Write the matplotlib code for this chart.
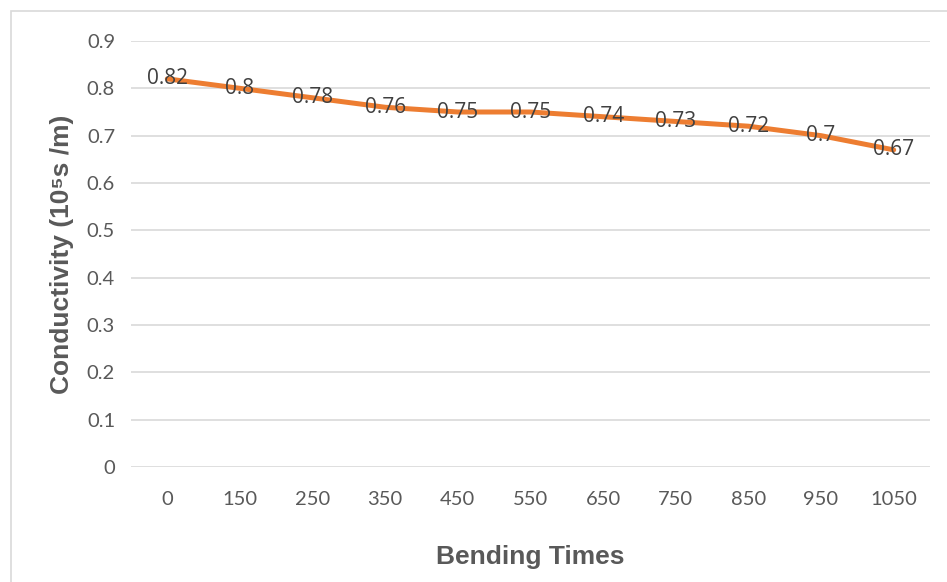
import matplotlib.pyplot as plt
from matplotlib.patches import Rectangle

# Data
bending_times = ["0", "150", "250", "350", "450", "550", "650", "750", "850", "950", "1050"]
conductivity = [0.82, 0.80, 0.78, 0.76, 0.75, 0.75, 0.74, 0.73, 0.72, 0.70, 0.67]
y_ticks = [0, 0.1, 0.2, 0.3, 0.4, 0.5, 0.6, 0.7, 0.8, 0.9]

W, H = 947, 582
fig = plt.figure(figsize=(W / 100, H / 100), dpi=100)

# chart border (only top/left visible, rest cropped)
fig.patches.append(Rectangle((11 / W, -0.1), 1.2, 1 - 11 / H + 0.1,
                             transform=fig.transFigure, fill=False,
                             edgecolor="#D9D9D9", linewidth=1.2))

ax = fig.add_axes([131 / W, 1 - 467 / H, (930 - 131) / W, (467 - 41) / H])

x = list(range(len(bending_times)))
ax.plot(x, conductivity, color="#ED7D31", linewidth=3.6,
        solid_capstyle="round", solid_joinstyle="round", zorder=3)

for xi, v in zip(x, conductivity):
    ax.text(xi, v, f"{v:g}", ha="center", va="center", fontsize=15,
            color="#404040", family=["Open Sans", "DejaVu Sans"], zorder=4)

ax.set_xlim(-0.5, len(x) - 0.5)
ax.set_ylim(0, 0.9)
ax.set_yticks(y_ticks)
ax.set_yticklabels([f"{t:g}" for t in y_ticks])
ax.set_xticks(x)
ax.set_xticklabels(bending_times)

for lab in ax.get_xticklabels() + ax.get_yticklabels():
    lab.set_fontfamily(["Lato", "DejaVu Sans"])
    lab.set_fontsize(14.5)
    lab.set_color("#595959")

ax.tick_params(axis="both", length=0)
ax.tick_params(axis="y", pad=11.5)
ax.tick_params(axis="x", pad=17)

ax.grid(axis="y", color="#D9D9D9", linewidth=1.2)
ax.set_axisbelow(True)
for s in ax.spines.values():
    s.set_visible(False)

title_font = dict(fontsize=19, fontweight="bold", color="#595959",
                  family=["Liberation Sans", "DejaVu Sans"])
fig.text(530 / W, 1 - 557 / H, "Bending Times", ha="center", va="center", **title_font)
fig.text(62 / W, 1 - 254 / H, "Conductivity (10\u2075s /m)", ha="center", va="center",
         rotation=90, **title_font)

fig.savefig("out.png", dpi=100)
